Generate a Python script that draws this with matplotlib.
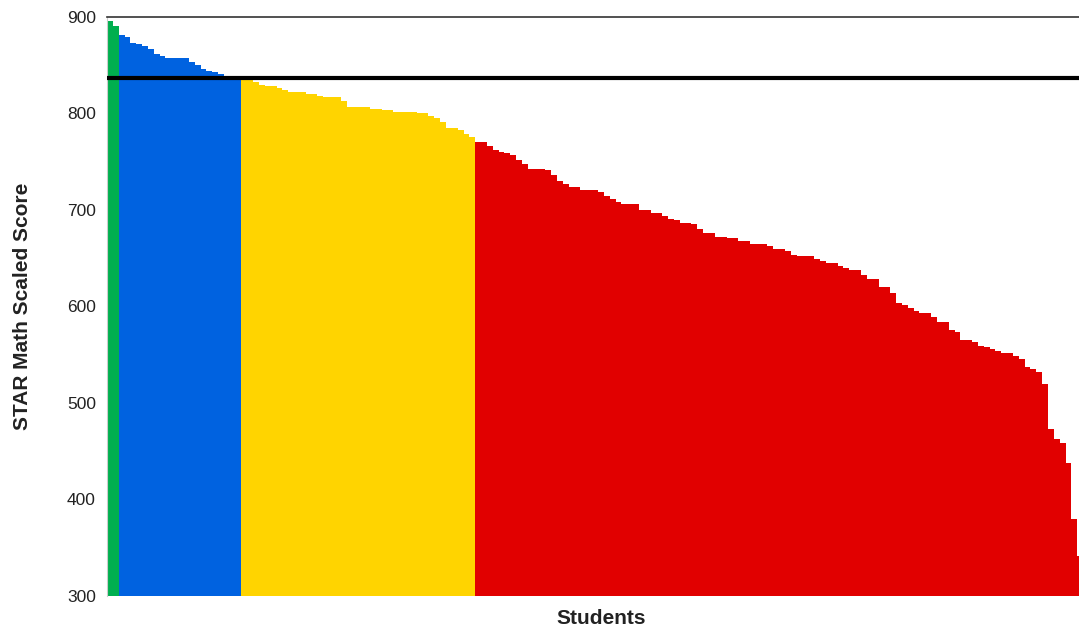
import matplotlib
matplotlib.use("Agg")
import matplotlib.pyplot as plt
import numpy as np

#%%DATA
#scores, sorted high to low, split by colour band
green_scores = [896, 891]
blue_scores = [881, 879, 873, 872, 870, 867, 862, 860, 858, 858, 858, 858,
               853, 850, 846, 844, 843, 841, 839, 838, 837]
yellow_scores = [835, 835, 833, 830, 828, 828, 826, 824, 822, 822, 822, 820,
                 820, 818, 817, 817, 817, 813, 807, 807, 807, 807, 805, 805,
                 804, 804, 802, 802, 802, 802, 800, 800, 797, 795, 791, 785,
                 785, 783, 779, 776]
red_scores = [770, 770, 766, 762, 760, 759, 757, 752, 748, 743, 743, 743,
              741, 736, 730, 727, 724, 724, 721, 721, 721, 719, 715, 711,
              708, 706, 706, 706, 700, 700,
              697, 697, 694, 691, 690, 687, 687, 685, 680, 676, 676, 672,
              672, 671, 671, 668, 668, 665, 665, 665, 663,
              660, 660, 658, 653, 652, 652, 652, 649, 647, 645, 645, 642,
              640, 638, 638, 633, 628, 628, 620, 620, 614, 604, 602, 598,
              595, 593, 593, 589, 584, 584, 576, 574, 565, 565,
              563, 559, 558, 556, 554, 552, 552, 549, 546, 537, 535, 532,
              520, 473, 463, 459, 438, 380, 341]
benchmark = 837
y_ticks = [300, 400, 500, 600, 700, 800, 900]

#%%STYLE
band_colors = ["#00AF4F", "#0062E0", "#FFD400", "#E10000"]
plt.rcParams["font.family"] = ["Liberation Sans", "DejaVu Sans"]

#%%PLOT
groups = [green_scores, blue_scores, yellow_scores, red_scores]
scores = []
colors = []
for grp, col in zip(groups, band_colors):
    scores += grp
    colors += [col] * len(grp)
x = np.arange(len(scores))

fig = plt.figure(figsize=(10.79, 6.33), dpi=100)
ax = fig.add_axes([107/1079, 1 - 596/633, 972/1079, 579/633])

ax.bar(x, np.array(scores) - 300, bottom=300, width=1.0, color=colors,
       linewidth=0, align="center")
ax.axhline(benchmark, color="black", linewidth=3, zorder=3)

ax.set_xlim(-0.5, len(scores) - 1.2)
ax.set_ylim(300, 900)
ax.set_yticks(y_ticks)
ax.set_xticks([])
ax.tick_params(axis="y", length=0, pad=8, labelsize=12.5, labelcolor="#222222")

for side in ["right", "bottom"]:
    ax.spines[side].set_visible(False)
ax.spines["top"].set_color("#333333")
ax.spines["top"].set_linewidth(1.2)
ax.spines["left"].set_color("#cccccc")
ax.spines["left"].set_linewidth(0.8)

ax.set_ylabel("STAR Math Scaled Score", fontsize=15, fontweight="bold",
              color="#222222")
ax.yaxis.set_label_coords(-75/972, 0.5)
ax.set_xlabel("Students", fontsize=15, fontweight="bold", color="#222222")
ax.xaxis.set_label_coords(494/972, -13/579)

fig.savefig("out.png", dpi=100)
